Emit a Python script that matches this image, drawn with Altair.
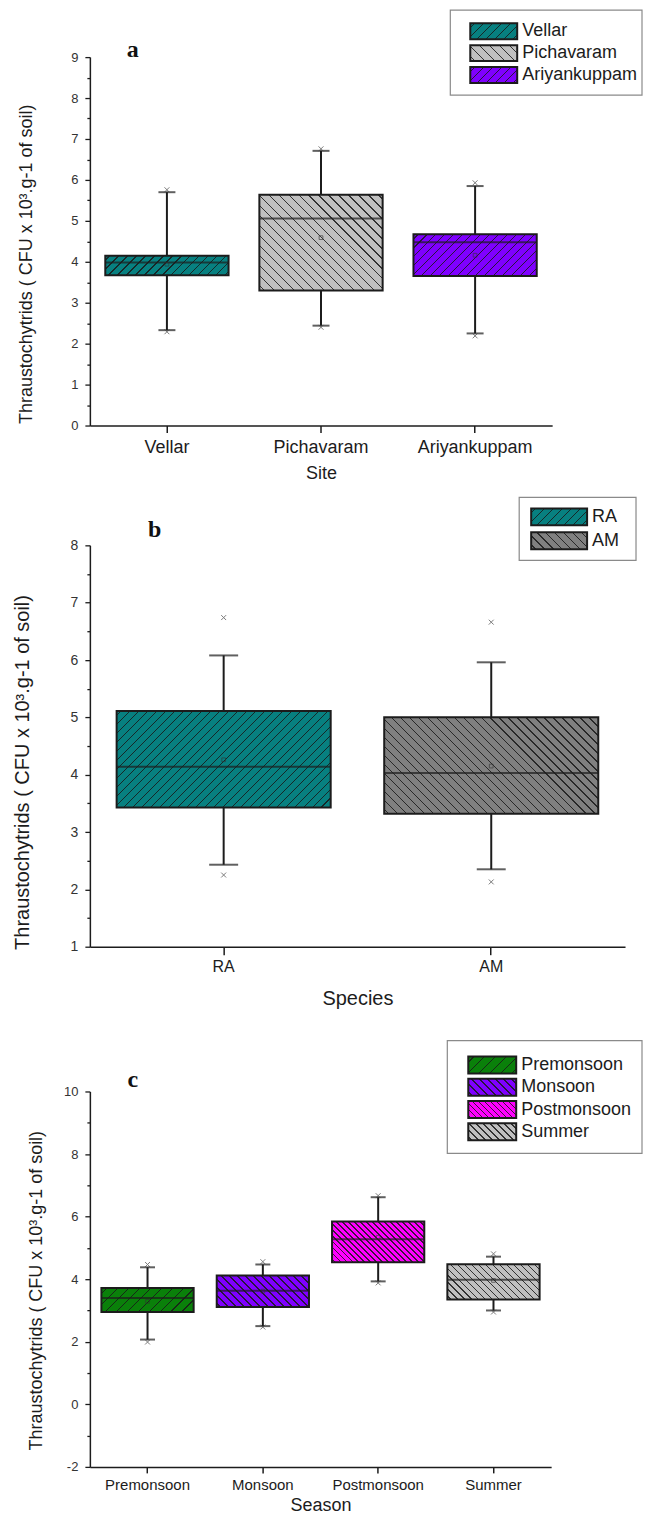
import math
import altair as alt
import pandas as pd

FONT = "Liberation Sans"
SERIF = "Liberation Serif"
INK = "#1c1c1c"
YTITLE = "Thraustochytrids ( CFU x 10³.g-1 of soil)"
CROSS = "M-1,-1L1,1M-1,1L1,-1"

# ---------------- Panel a : Site ----------------
a_cats = ["Vellar", "Pichavaram", "Ariyankuppam"]
a_colors = ["#078080", "#c0c0c0", "#7f00ff"]
a_hatch = [1, -1, 1]
a_q1 = [3.67, 3.30, 3.65]
a_q3 = [4.15, 5.64, 4.67]
a_med = [3.98, 5.06, 4.48]
a_mean = [3.94, 4.59, 4.16]
a_wlo = [2.33, 2.44, 2.25]
a_whi = [5.70, 6.71, 5.85]
a_min = [2.29, 2.40, 2.19]
a_max = [5.76, 6.76, 5.93]

# ---------------- Panel b : Species ----------------
b_cats = ["RA", "AM"]
b_colors = ["#078080", "#808080"]
b_hatch = [1, -1]
b_q1 = [3.43, 3.32]
b_q3 = [5.11, 5.00]
b_med = [4.14, 4.03]
b_mean = [4.26, 4.15]
b_wlo = [2.43, 2.35]
b_whi = [6.08, 5.96]
b_min = [2.25, 2.13]
b_max = [6.74, 6.66]

# ---------------- Panel c : Season ----------------
c_cats = ["Premonsoon", "Monsoon", "Postmonsoon", "Summer"]
c_colors = ["#0a800a", "#7f00ff", "#ff00ff", "#c0c0c0"]
c_hatch = [1, -1, -1, -1]
c_q1 = [2.95, 3.11, 4.54, 3.35]
c_q3 = [3.72, 4.12, 5.84, 4.48]
c_med = [3.40, 3.63, 5.28, 3.98]
c_mean = [3.29, 3.62, 5.34, 3.96]
c_wlo = [2.07, 2.50, 3.93, 3.00]
c_whi = [4.38, 4.47, 6.62, 4.72]
c_min = [1.99, 2.47, 3.88, 2.95]
c_max = [4.47, 4.56, 6.67, 4.81]


def hatch_fill(w, h, direction, sx, lw=1.0, ink="rgba(25,25,25,0.85)"):
    """Linear gradient with hard stops that draws diagonal hatch lines."""
    s = (1 / h + 1 / w) / (1 / h ** 2 + 1 / w ** 2)
    gx, gy = s / h, s / w
    if direction > 0:
        x1, y1, x2, y2 = 0, 0, gx, gy
    else:
        x1, y1, x2, y2 = 0, 1, gx, 1 - gy
    period = sx / (w + h)
    half = (lw / 2) / ((w + h) / math.sqrt(2))
    clear = "rgba(0,0,0,0)"
    stops = [{"offset": 0, "color": clear}]
    k = 0
    while True:
        c = (k + 0.5) * period
        if c + half >= 1:
            break
        stops += [
            {"offset": round(c - half, 5), "color": clear},
            {"offset": round(c - half, 5), "color": ink},
            {"offset": round(c + half, 5), "color": ink},
            {"offset": round(c + half, 5), "color": clear},
        ]
        k += 1
    stops.append({"offset": 1, "color": clear})
    return {"gradient": "linear", "x1": x1, "y1": y1, "x2": x2, "y2": y2, "stops": stops}


LEFT = 82  # common left extent of every panel (plot areas share their left edge)


def build_panel(cfg):
    cats, colors = cfg["cats"], cfg["colors"]
    n = len(cats)
    W, H = cfg["W"], cfg["H"]
    d0, d1 = cfg["ydom"]
    bw = 0.8 * W / n
    ppu = H / (d1 - d0)
    major = cfg["major"]
    df = pd.DataFrame({
        "cat": cats, "q1": cfg["q1"], "q3": cfg["q3"], "med": cfg["med"],
        "mean": cfg["mean"], "wlo": cfg["wlo"], "whi": cfg["whi"],
        "mn": cfg["mn"], "mx": cfg["mx"],
    })

    xscale = alt.Scale(domain=cats, paddingInner=0.2, paddingOuter=0.1)
    yscale = alt.Scale(domain=[d0, d1], nice=False, zero=False)
    cscale = alt.Scale(domain=cats, range=colors)

    xaxis = alt.Axis(
        labelAngle=0, labelFontSize=cfg["xfs"], labelColor=INK, labelPadding=cfg["xlp"],
        labelLimit=300, labelOverlap=False, labelFont=FONT,
        tickSize=cfg["xts"], tickColor=INK, tickWidth=1.5,
        domainColor=INK, domainWidth=1.5, grid=False,
        titleFontSize=cfg["xtfs"], titleFontWeight="normal",
        titleColor=INK, titleFont=FONT, titleX=W / 2, titleY=cfg["xty"],
        titleBaseline="middle", titleAlign="center",
    )
    yaxis = alt.Axis(
        values=cfg["yvals"],
        labelExpr=f"datum.value % {major} == 0 ? '' + datum.value : ''",
        labelOverlap=False, labelFontSize=cfg["yfs"], labelColor="#333", labelPadding=7,
        labelFont=FONT,
        tickSize={"condition": {"test": f"datum.value % {major} == 0", "value": 5}, "value": 3},
        tickColor=INK, tickWidth=1.3, domainColor=INK, domainWidth=1.5, grid=False,
        titleFontSize=cfg["ytfs"], titleFontWeight="normal", titleColor=INK,
        titleFont=FONT, titleAngle=270, titleBaseline="middle", titleAlign="center",
        titleX=cfg["ytx"], titleY=cfg["yty"],
    )

    def X():
        return alt.X("cat:N", sort=cats, scale=xscale, axis=xaxis, title=cfg["xtitle"])

    def Y(field):
        return alt.Y(f"{field}:Q", scale=yscale, axis=yaxis, title=YTITLE)

    base = alt.Chart(df)
    lw = cfg["lw"]
    layers = [
        base.mark_rule(color=INK, strokeWidth=lw).encode(x=X(), y=Y("wlo"), y2="whi:Q"),
        base.mark_bar(strokeWidth=0).encode(
            x=X(), y=Y("q1"), y2="q3:Q",
            color=alt.Color("cat:N", scale=cscale, legend=None)),
    ]
    for i, c in enumerate(cats):
        h = (cfg["q3"][i] - cfg["q1"][i]) * ppu
        layers.append(
            base.transform_filter(alt.datum.cat == c)
            .mark_bar(fill=hatch_fill(bw, h, cfg["hatch"][i], cfg["sx"][i]), strokeWidth=0)
            .encode(x=X(), y=Y("q1"), y2="q3:Q"))
    layers.append(base.mark_bar(fillOpacity=0, stroke=INK, strokeWidth=lw)
                  .encode(x=X(), y=Y("q1"), y2="q3:Q"))
    layers.append(base.mark_tick(color=INK, thickness=lw, size=bw).encode(x=X(), y=Y("med")))
    for f in ("wlo", "whi"):
        layers.append(base.mark_tick(color=INK, thickness=lw, size=cfg["cap"])
                      .encode(x=X(), y=Y(f)))
    layers.append(base.mark_point(shape="square", filled=False, size=14, strokeWidth=0.9,
                                  color="#333").encode(x=X(), y=Y("mean")))
    for f in ("mn", "mx"):
        layers.append(base.mark_point(shape=CROSS, filled=False, size=24, strokeWidth=1,
                                      color="#444").encode(x=X(), y=Y(f)))
    boxes = alt.layer(*layers)

    # ---- legend (own band scale for rows) ----
    L = cfg["legend"]
    leg = pd.DataFrame({"lcat": cats})
    one = pd.DataFrame({"k": [0]})
    step_, hs = L["step"], L["sh"]
    pi = (step_ - hs) / step_
    r0 = L["top"]
    r1 = r0 + step_ * (n - pi)
    lscale = alt.Scale(domain=cats, range=[r0, r1], paddingInner=pi, paddingOuter=0)
    ly = alt.Y("lcat:N", scale=lscale, axis=None, sort=cats)
    sw_w = L["sx1"] - L["sx0"]
    llayers = [
        alt.Chart(one).mark_rect(fill="white", stroke="#8a8a8a", strokeWidth=1.2).encode(
            x=alt.value(L["bx0"]), x2=alt.value(L["bx1"]),
            y=alt.value(L["by0"]), y2=alt.value(L["by1"])),
        alt.Chart(leg).mark_rect(strokeWidth=0).encode(
            x=alt.value(L["sx0"]), x2=alt.value(L["sx1"]), y=ly,
            color=alt.Color("lcat:N", scale=cscale, legend=None)),
    ]
    for i, c in enumerate(cats):
        llayers.append(
            alt.Chart(leg).transform_filter(alt.datum.lcat == c)
            .mark_rect(fill=hatch_fill(sw_w, hs, cfg["hatch"][i], cfg["sx"][i]), strokeWidth=0)
            .encode(x=alt.value(L["sx0"]), x2=alt.value(L["sx1"]), y=ly))
    llayers.append(alt.Chart(leg).mark_rect(fillOpacity=0, stroke=INK, strokeWidth=2).encode(
        x=alt.value(L["sx0"]), x2=alt.value(L["sx1"]), y=ly))
    llayers.append(alt.Chart(leg).mark_text(
        align="left", baseline="middle", font=FONT, fontSize=L["fs"], color=INK).encode(
        x=alt.value(L["tx"]), y=ly, text="lcat:N"))
    # panel letter
    llayers.append(alt.Chart(one).mark_text(
        font=SERIF, fontWeight="bold", fontSize=24, color="#111",
        align="center", baseline="middle").encode(
        x=alt.value(cfg["letter_xy"][0]), y=alt.value(cfg["letter_xy"][1]),
        text=alt.value(cfg["letter"])))
    # invisible (white) spacers that fix the panel's layout extents
    llayers.append(alt.Chart(one).mark_rect(fill="white").encode(
        x=alt.value(-LEFT), x2=alt.value(-LEFT + 1),
        y=alt.value(H / 2), y2=alt.value(H / 2 + 1)))
    if cfg.get("below"):
        llayers.append(alt.Chart(one).mark_rect(fill="white").encode(
            x=alt.value(0), x2=alt.value(1),
            y=alt.value(H + cfg["below"] - 1), y2=alt.value(H + cfg["below"])))
    legend = alt.layer(*llayers)

    return alt.layer(boxes, legend).resolve_scale(y="independent").properties(width=W, height=H)


cfg_a = dict(
    cats=a_cats, colors=a_colors, hatch=a_hatch, sx=[9, 10, 9],
    q1=a_q1, q3=a_q3, med=a_med, mean=a_mean, wlo=a_wlo, whi=a_whi, mn=a_min, mx=a_max,
    W=463, H=369, ydom=[0, 9], yvals=[v / 2 for v in range(0, 19)], major=1,
    yfs=13, ytfs=18, ytx=-63, yty=207,
    xfs=18, xlp=6, xts=7, xtitle="Site", xtfs=18, xty=48,
    cap=17, lw=2, below=61,
    letter="a", letter_xy=(43, -7),
    legend=dict(bx0=361, bx1=553, by0=-47, by1=38, sx0=381, sx1=428,
                top=-34, step=22, sh=16, tx=433, fs=18),
)
cfg_b = dict(
    cats=b_cats, colors=b_colors, hatch=b_hatch, sx=[9, 9],
    q1=b_q1, q3=b_q3, med=b_med, mean=b_mean, wlo=b_wlo, whi=b_whi, mn=b_min, mx=b_max,
    W=536, H=402, ydom=[1, 8], yvals=[1 + v / 2 for v in range(0, 15)], major=1,
    yfs=14, ytfs=20, ytx=-67, yty=227,
    xfs=16, xlp=4, xts=8, xtitle="Species", xtfs=20, xty=52,
    cap=29, lw=2, below=83,
    letter="b", letter_xy=(65, -15),
    legend=dict(bx0=430, bx1=547, by0=-48, by1=15, sx0=442, sx1=498,
                top=-37, step=24, sh=17, tx=503, fs=18),
)
cfg_c = dict(
    cats=c_cats, colors=c_colors, hatch=c_hatch, sx=[11, 8, 6, 7],
    q1=c_q1, q3=c_q3, med=c_med, mean=c_mean, wlo=c_wlo, whi=c_whi, mn=c_min, mx=c_max,
    W=462, H=376, ydom=[-2, 10], yvals=list(range(-2, 11)), major=2,
    yfs=13, ytfs=18, ytx=-53, yty=199,
    xfs=15, xlp=5, xts=6, xtitle="Season", xtfs=18, xty=39,
    cap=15, lw=2, below=None,
    letter="c", letter_xy=(43, -11),
    legend=dict(bx0=358, bx1=553, by0=-51, by1=62, sx0=379, sx1=427,
                top=-35, step=22.3, sh=17, tx=432, fs=18),
)

chart = (
    alt.concat(build_panel(cfg_a), build_panel(cfg_b), build_panel(cfg_c),
               columns=1, spacing=10)
    .resolve_scale(color="independent")
    .properties(padding=0, background="white")
    .configure(font=FONT, view=alt.ViewConfig(stroke=None))
)

chart.save("out.html", embed_options={"renderer": "svg", "actions": False})
